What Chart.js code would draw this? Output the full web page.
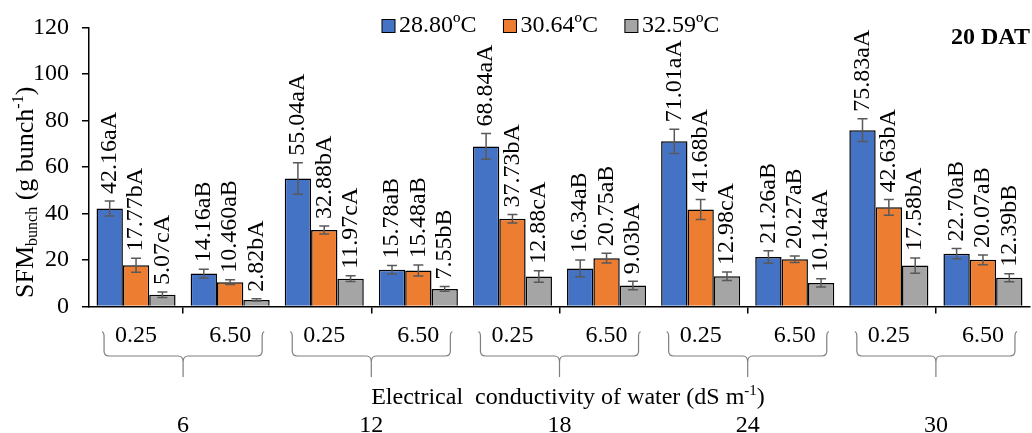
<!DOCTYPE html>
<html lang="en">
<head>
<meta charset="UTF-8">
<title>SFM bunch - 20 DAT</title>
<script src="https://cdn.jsdelivr.net/npm/chart.js"></script>
<style>
    html, body {
        margin: 0;
        padding: 0;
        background: #fff;
    }
</style>
</head>
<body>
<canvas id="sfmChart" width="1032" height="433"></canvas>

<script>
    // categories: EC of water for each group (inner level) and group values (outer level)
    const ecLevels = ['0.25', '6.50', '0.25', '6.50', '0.25', '6.50', '0.25', '6.50', '0.25', '6.50'];
    const groupLabels = ['6', '12', '18', '24', '30'];
    const seriesNames = ['28.80ºC', '30.64ºC', '32.59ºC'];
    const seriesColors = ['#4472C4', '#ED7D31', '#A5A5A5'];

    const sfm2880 = [42.16, 14.16, 55.04, 15.78, 68.84, 16.34, 71.01, 21.26, 75.83, 22.70];
    const sfm3064 = [17.77, 10.46, 32.88, 15.48, 37.73, 20.75, 41.68, 20.27, 42.63, 20.07];
    const sfm3259 = [5.07, 2.82, 11.97, 7.55, 12.88, 9.03, 12.98, 10.14, 17.58, 12.39];

    const err2880 = [3.2, 1.9, 6.8, 1.8, 5.5, 3.6, 5.2, 2.7, 4.9, 2.2];
    const err3064 = [3.0, 1.0, 1.7, 2.4, 1.8, 2.1, 4.3, 1.4, 3.4, 2.1];
    const err3259 = [1.2, 0.5, 1.2, 1.0, 2.5, 1.8, 1.8, 1.8, 3.3, 1.7];

    const lbl2880 = ['42.16aA', '14.16aB', '55.04aA', '15.78aB', '68.84aA', '16.34aB', '71.01aA', '21.26aB', '75.83aA', '22.70aB'];
    const lbl3064 = ['17.77bA', '10.460aB', '32.88bA', '15.48aB', '37.73bA', '20.75aB', '41.68bA', '20.27aB', '42.63bA', '20.07aB'];
    const lbl3259 = ['5.07cA', '2.82bA', '11.97cA', '7.55bB', '12.88cA', '9.03bA', '12.98cA', '10.14aA', '17.58bA', '12.39bB'];

    const yMin = 0, yMax = 120, yStep = 20;

    const serif = '"Liberation Serif", "Times New Roman", serif';
    Chart.defaults.font.family = serif;
    Chart.defaults.color = '#000';

    const errors = [err2880, err3064, err3259];
    const labels = [lbl2880, lbl3064, lbl3259];

    // draws a run of text pieces (normal / sub / sup) starting at x, y (baseline)
    function drawRich(ctx, parts, x, y) {
        parts.forEach(p => {
            ctx.font = p.size + 'px ' + serif;
            ctx.fillText(p.t, x, y + (p.dy || 0));
            x += ctx.measureText(p.t).width;
        });
    }
    function richWidth(ctx, parts) {
        let w = 0;
        parts.forEach(p => {
            ctx.font = p.size + 'px ' + serif;
            w += ctx.measureText(p.t).width;
        });
        return w;
    }

    const extras = {
        id: 'extras',
        afterDatasetsDraw(chart) {
            const ctx = chart.ctx;
            const yScale = chart.scales.y;
            ctx.save();
            chart.data.datasets.forEach((ds, i) => {
                const meta = chart.getDatasetMeta(i);
                meta.data.forEach((bar, j) => {
                    const v = ds.data[j], e = errors[i][j];
                    const yTop = yScale.getPixelForValue(v + e);
                    const yBot = yScale.getPixelForValue(v - e);
                    // error bar
                    ctx.strokeStyle = '#595959';
                    ctx.lineWidth = 1.5;
                    ctx.beginPath();
                    ctx.moveTo(bar.x, yTop); ctx.lineTo(bar.x, yBot);
                    ctx.moveTo(bar.x - 5, yTop); ctx.lineTo(bar.x + 5, yTop);
                    ctx.moveTo(bar.x - 5, yBot); ctx.lineTo(bar.x + 5, yBot);
                    ctx.stroke();
                    // rotated value label
                    ctx.save();
                    ctx.translate(bar.x, yTop - 7);
                    ctx.rotate(-Math.PI / 2);
                    ctx.fillStyle = '#000';
                    ctx.font = '24px ' + serif;
                    ctx.textAlign = 'left';
                    ctx.textBaseline = 'middle';
                    ctx.fillText(labels[i][j], 0, 0);
                    ctx.restore();
                });
            });
            ctx.restore();
        },
        afterDraw(chart) {
            const ctx = chart.ctx;
            const xScale = chart.scales.x;
            const bottom = chart.chartArea.bottom;
            ctx.save();

            // legend
            let bx = 382;
            ctx.textBaseline = 'middle';
            ctx.textAlign = 'left';
            chart.data.datasets.forEach(ds => {
                ctx.fillStyle = ds.backgroundColor;
                ctx.fillRect(bx, 19.5, 13, 13);
                ctx.strokeStyle = '#000';
                ctx.lineWidth = 1;
                ctx.strokeRect(bx, 19.5, 13, 13);
                ctx.fillStyle = '#000';
                ctx.font = '24px ' + serif;
                ctx.fillText(ds.label, bx + 17, 26);
                bx += 17 + ctx.measureText(ds.label).width + 27;
            });

            // "20 DAT"
            ctx.font = 'bold 24px ' + serif;
            ctx.textBaseline = 'alphabetic';
            ctx.fillText('20 DAT', 951, 44);

            // braces under each pair of EC levels
            ctx.strokeStyle = '#7f7f7f';
            ctx.lineWidth = 1.2;
            const yT = bottom + 25, yH = bottom + 49.5, yS = bottom + 70.5;
            for (let k = 0; k < groupLabels.length; k++) {
                const c0 = xScale.getPixelForValue(2 * k);
                const c1 = xScale.getPixelForValue(2 * k + 1);
                const l = c0 - 32, r = c1 + 32, m = (c0 + c1) / 2;
                ctx.beginPath();
                ctx.moveTo(l - 2, yT);
                ctx.quadraticCurveTo(l, yT + 1, l, yT + 4);
                ctx.lineTo(l, yH - 5);
                ctx.quadraticCurveTo(l, yH, l + 5, yH);
                ctx.lineTo(m - 5, yH);
                ctx.quadraticCurveTo(m, yH, m, yH + 6);
                ctx.lineTo(m, yS);
                ctx.moveTo(m, yH + 6);
                ctx.quadraticCurveTo(m, yH, m + 5, yH);
                ctx.lineTo(r - 5, yH);
                ctx.quadraticCurveTo(r, yH, r, yH - 5);
                ctx.lineTo(r, yT + 4);
                ctx.quadraticCurveTo(r, yT + 1, r + 2, yT);
                ctx.stroke();
            }

            // x axis title
            ctx.fillStyle = '#000';
            const xt = [
                { t: 'Electrical  conductivity of water (dS m', size: 24 },
                { t: '-1', size: 15, dy: -9 },
                { t: ')', size: 24 }
            ];
            drawRich(ctx, xt, 568 - richWidth(ctx, xt) / 2, 404);

            // y axis title
            ctx.translate(33, 298);
            ctx.rotate(-Math.PI / 2);
            drawRich(ctx, [
                { t: 'SFM', size: 26 },
                { t: 'bunch', size: 16, dy: 4 },
                { t: ' (g bunch', size: 26 },
                { t: '-1', size: 16, dy: -10 },
                { t: ')', size: 26 }
            ], 0, 0);
            ctx.restore();
        }
    };

    const ctx = document.getElementById('sfmChart').getContext('2d');
    new Chart(ctx, {
        type: 'bar',
        data: {
            labels: ecLevels,
            datasets: [sfm2880, sfm3064, sfm3259].map((d, i) => ({
                label: seriesNames[i],
                data: d,
                backgroundColor: seriesColors[i],
                borderColor: '#000',
                borderWidth: 1.5,
                categoryPercentage: 0.84,
                barPercentage: 1.0
            }))
        },
        options: {
            responsive: false,
            animation: false,
            layout: { padding: { top: 15, left: 0, right: 2, bottom: 0 } },
            plugins: {
                legend: { display: false },
                tooltip: { enabled: false }
            },
            scales: {
                x: {
                    offset: true,
                    grid: {
                        offset: true,
                        drawOnChartArea: false,
                        tickLength: 7,
                        lineWidth: 1.5,
                        color: c => (c.index % 2 === 1 || c.index === ecLevels.length) ? '#000' : 'rgba(0,0,0,0)'
                    },
                    border: { color: '#000', width: 1.5 },
                    ticks: { padding: 8, font: { size: 24 }, color: '#000', maxRotation: 0, autoSkip: false },
                    afterFit: s => { s.height = 45; }
                },
                x2: {
                    type: 'category',
                    labels: groupLabels,
                    position: 'bottom',
                    weight: 1,
                    offset: true,
                    grid: { display: false, drawTicks: false },
                    border: { display: false },
                    ticks: { padding: 60, font: { size: 24 }, color: '#000', maxRotation: 0, autoSkip: false },
                    afterFit: s => { s.height = 433 - 306.5 - 45; }
                },
                y: {
                    min: yMin,
                    max: yMax,
                    ticks: { stepSize: yStep, padding: 13, font: { size: 24 }, color: '#000' },
                    grid: { drawOnChartArea: false, tickLength: 7, color: '#000', lineWidth: 1.5 },
                    border: { color: '#000', width: 1.5 },
                    afterFit: s => { s.width = 89; }
                }
            }
        },
        plugins: [extras]
    });
</script>
</body>
</html>
